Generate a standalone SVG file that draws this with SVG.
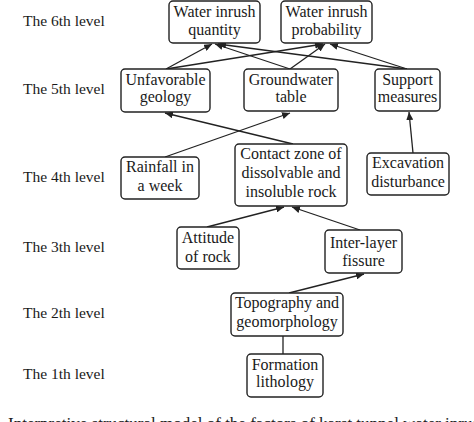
<svg xmlns="http://www.w3.org/2000/svg" width="474" height="422" viewBox="0 0 474 422">
<defs>
<style>
text{font-family:"Liberation Serif","Times New Roman",serif;font-size:15.5px;fill:#1a1a1a}
.n text{text-anchor:middle;font-size:16px}
.n rect{fill:#fff;stroke:#222;stroke-width:1.4}
#connectors line{stroke:#222;stroke-width:1.3}
.a{marker-end:url(#ah)}
</style>
<marker id="ah" markerUnits="userSpaceOnUse" markerWidth="9" markerHeight="7" refX="8" refY="3.5" orient="auto">
<path d="M0,0 L8,3.5 L0,7 z" fill="#222"/>
</marker>
</defs>
<rect width="474" height="422" fill="#fff"/>
<g id="levels">
<text x="23" y="26">The 6th level</text>
<text x="23" y="94">The 5th level</text>
<text x="23" y="182">The 4th level</text>
<text x="23" y="252">The 3th level</text>
<text x="23" y="318">The 2th level</text>
<text x="23" y="379">The 1th level</text>
</g>
<g id="connectors">
<line x1="283" y1="354" x2="283" y2="336"/>
<line class="a" x1="289" y1="293" x2="364" y2="274"/>
<line class="a" x1="360" y1="230" x2="292" y2="207"/>
<line class="a" x1="207" y1="227" x2="284" y2="207"/>
<line class="a" x1="293" y1="144" x2="165" y2="113"/>
<line class="a" x1="165" y1="157" x2="290" y2="113"/>
<line class="a" x1="413" y1="153" x2="409" y2="112"/>
<line class="a" x1="166" y1="69" x2="212" y2="44"/>
<line class="a" x1="166" y1="69" x2="323" y2="44"/>
<line class="a" x1="290" y1="69" x2="215" y2="44"/>
<line class="a" x1="290" y1="69" x2="325" y2="44"/>
<line class="a" x1="407" y1="69" x2="218" y2="44"/>
<line class="a" x1="407" y1="69" x2="330" y2="44"/>
</g>
<g id="water-inrush-quantity" class="n">
<rect x="169" y="1" width="91" height="42" rx="4"/>
<text x="214.5" y="17">Water inrush</text>
<text x="214.5" y="35">quantity</text>
</g>
<g id="water-inrush-probability" class="n">
<rect x="281" y="1" width="91" height="42" rx="4"/>
<text x="326.5" y="17">Water inrush</text>
<text x="326.5" y="35">probability</text>
</g>
<g id="unfavorable-geology" class="n">
<rect x="121" y="69" width="89" height="43" rx="4"/>
<text x="165.5" y="85">Unfavorable</text>
<text x="165.5" y="102">geology</text>
</g>
<g id="groundwater-table" class="n">
<rect x="244" y="69" width="94" height="42" rx="4"/>
<text x="291" y="85">Groundwater</text>
<text x="291" y="102">table</text>
</g>
<g id="support-measures" class="n">
<rect x="375" y="69" width="65" height="42" rx="4"/>
<text x="407.5" y="85">Support</text>
<text x="407.5" y="102">measures</text>
</g>
<g id="rainfall" class="n">
<rect x="121" y="157" width="78" height="42" rx="4"/>
<text x="160" y="172">Rainfall in</text>
<text x="160" y="191">a week</text>
</g>
<g id="contact-zone" class="n">
<rect x="235" y="144" width="112" height="62" rx="4"/>
<text x="291" y="159">Contact zone of</text>
<text x="291" y="178">dissolvable and</text>
<text x="291" y="197">insoluble rock</text>
</g>
<g id="excavation-disturbance" class="n">
<rect x="367" y="153" width="82" height="42" rx="4"/>
<text x="408" y="168">Excavation</text>
<text x="408" y="187">disturbance</text>
</g>
<g id="attitude-of-rock" class="n">
<rect x="177" y="227" width="62" height="42" rx="4"/>
<text x="208" y="243">Attitude</text>
<text x="208" y="262">of rock</text>
</g>
<g id="inter-layer-fissure" class="n">
<rect x="325" y="230" width="77" height="43" rx="4"/>
<text x="363.5" y="248">Inter-layer</text>
<text x="363.5" y="266">fissure</text>
</g>
<g id="topography" class="n">
<rect x="231" y="293" width="112" height="43" rx="4"/>
<text x="287" y="308">Topography and</text>
<text x="287" y="327">geomorphology</text>
</g>
<g id="formation-lithology" class="n">
<rect x="247" y="354" width="76" height="43" rx="4"/>
<text x="285" y="370">Formation</text>
<text x="285" y="387">lithology</text>
</g>
<text x="8" y="429" style="font-size:17px">Interpretive structural model of the factors of karst tunnel water inrush</text>
</svg>
